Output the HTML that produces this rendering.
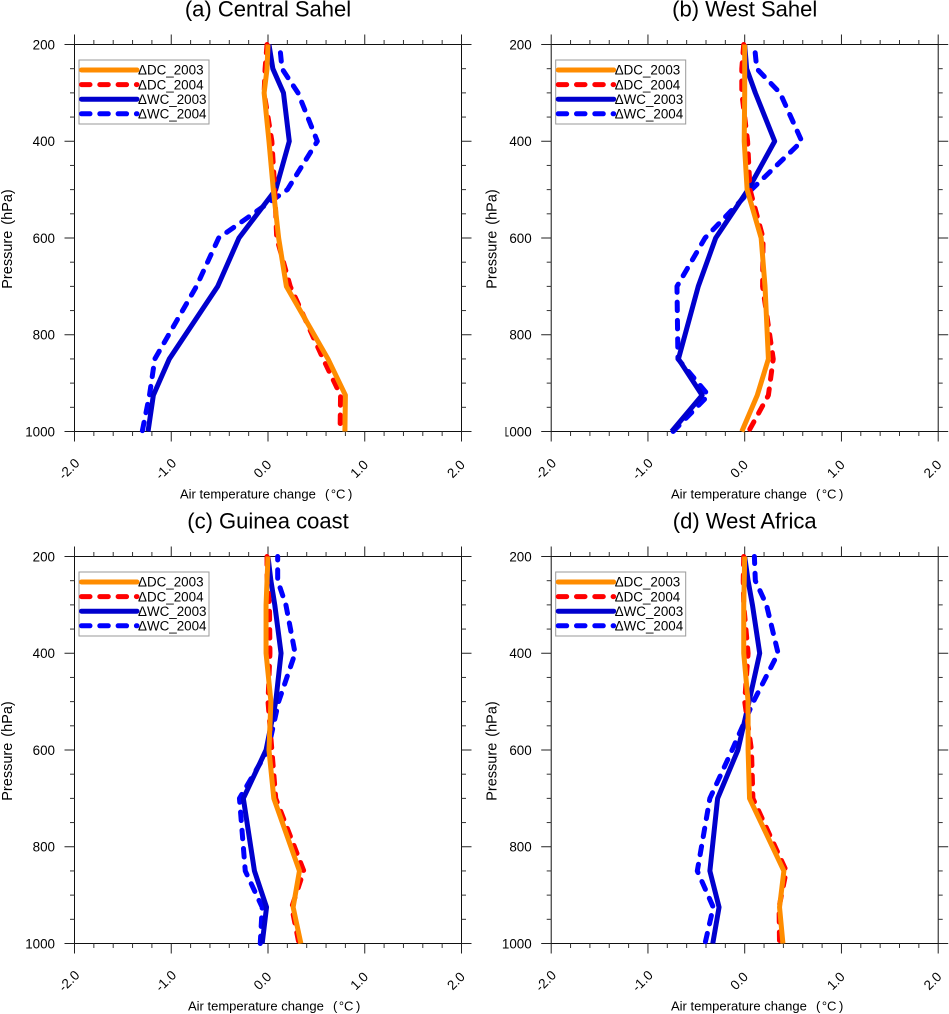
<!DOCTYPE html>
<html>
<head>
<meta charset="utf-8">
<title>Air temperature change profiles</title>
<style>
  html, body { margin: 0; padding: 0; background: #fff; }
  svg { display: block; font-family: "Liberation Sans", sans-serif; }
</style>
</head>
<body>
<svg id="figure" width="949" height="1014" viewBox="0 0 949 1014" xmlns="http://www.w3.org/2000/svg"></svg>
<script>
const pressureLevels = [200, 250, 300, 400, 500, 600, 700, 850, 925, 1000];
const pressureTicks = [200, 400, 600, 800, 1000];
const temperatureTicks = [-2, -1, 0, 1, 2];
const temperatureTickLabels = ["-2.0", "-1.0", "0.0", "1.0", "2.0"];
const seriesNames = ["\u0394DC_2003", "\u0394DC_2004", "\u0394WC_2003", "\u0394WC_2004"];
const panelTitles = ["(a) Central Sahel", "(b) West Sahel", "(c) Guinea coast", "(d) West Africa"];

const centralSahelDC2003 = [0, -0.01, -0.04, 0.01, 0.055, 0.11, 0.19, 0.62, 0.80, 0.795];
const centralSahelDC2004 = [-0.01, -0.03, -0.04, 0.04, 0.07, 0.09, 0.23, 0.57, 0.75, 0.745];
const centralSahelWC2003 = [0.01, 0.05, 0.16, 0.22, 0.08, -0.30, -0.52, -1.02, -1.185, -1.24];
const centralSahelWC2004 = [0.12, 0.145, 0.31, 0.51, 0.2, -0.51, -0.74, -1.17, -1.225, -1.30];

const westSahelDC2003 = [0, 0, 0, -0.005, 0.025, 0.17, 0.21, 0.245, 0.13, -0.03];
const westSahelDC2004 = [-0.01, -0.03, -0.03, 0.03, 0.055, 0.19, 0.185, 0.295, 0.245, 0.04];
const westSahelWC2003 = [0, 0.02, 0.11, 0.31, 0.035, -0.30, -0.48, -0.685, -0.44, -0.755];
const westSahelWC2004 = [0.10, 0.125, 0.365, 0.59, 0.07, -0.41, -0.70, -0.69, -0.375, -0.74];

const guineaCoastDC2003 = [0, -0.01, -0.02, -0.02, 0.03, 0.01, 0.06, 0.325, 0.26, 0.34];
const guineaCoastDC2004 = [-0.01, -0.01, 0.015, 0.02, 0, 0.04, 0.08, 0.37, 0.245, 0.32];
const guineaCoastWC2003 = [0, 0.03, 0.07, 0.135, 0.08, -0.02, -0.255, -0.14, -0.015, -0.06];
const guineaCoastWC2004 = [0.10, 0.10, 0.185, 0.28, 0.11, 0, -0.295, -0.235, -0.06, -0.08];

const westAfricaDC2003 = [0, -0.005, -0.01, -0.01, 0.035, 0.035, 0.05, 0.405, 0.36, 0.395];
const westAfricaDC2004 = [-0.01, -0.015, -0.01, 0.035, 0, 0.07, 0.085, 0.43, 0.355, 0.36];
const westAfricaWC2003 = [0, 0.035, 0.08, 0.155, 0.045, -0.07, -0.28, -0.36, -0.265, -0.33];
const westAfricaWC2004 = [0.10, 0.11, 0.225, 0.345, 0.09, -0.13, -0.36, -0.49, -0.325, -0.41];

const panelSeries = [
  [centralSahelWC2004, centralSahelWC2003, centralSahelDC2004, centralSahelDC2003],
  [westSahelWC2004, westSahelWC2003, westSahelDC2004, westSahelDC2003],
  [guineaCoastWC2004, guineaCoastWC2003, guineaCoastDC2004, guineaCoastDC2003],
  [westAfricaWC2004, westAfricaWC2003, westAfricaDC2004, westAfricaDC2003]
];

const PLOT_SIZE = 387;
const panelFrames = [
  { left: 74.5, top: 44.5, xTitleStart: 180, yTitleGap: 62.5, dashPhase: 10, key: "central-sahel" },
  { left: 551.2, top: 44.5, xTitleStart: 671, yTitleGap: 54.5, dashPhase: 10, key: "west-sahel" },
  { left: 74.5, top: 556.5, xTitleStart: 188, yTitleGap: 62.5, dashPhase: 5, key: "guinea-coast" },
  { left: 551.2, top: 556.5, xTitleStart: 671, yTitleGap: 54.5, dashPhase: 1.5, key: "west-africa" }
];
const seriesStyles = [
  { color: "#0000ff", dashed: true },
  { color: "#0000cd", dashed: false },
  { color: "#ff0000", dashed: true },
  { color: "#ff8c00", dashed: false }
];
const legendStyles = [
  { color: "#ff8c00", dashed: false },
  { color: "#ff0000", dashed: true },
  { color: "#0000cd", dashed: false },
  { color: "#0000ff", dashed: true }
];

const NS = "http://www.w3.org/2000/svg";
const figure = document.getElementById("figure");

function make(tag, parent, attrs, text) {
  const el = document.createElementNS(NS, tag);
  for (const k in attrs) el.setAttribute(k, attrs[k]);
  if (text !== undefined) el.textContent = text;
  parent.appendChild(el);
  return el;
}
function xScale(frame, value) { return frame.left + (value + 2) / 4 * PLOT_SIZE; }
function yScale(frame, pressure) { return frame.top + (pressure - 200) / 800 * PLOT_SIZE; }

function drawTick(group, x1, y1, x2, y2, major) {
  const tick = make("line", group, { x1: x1, y1: y1, x2: x2, y2: y2, stroke: major ? "#222" : "#333", "stroke-width": 1 });
  
  
}

function drawAxes(group, frame, title) {
  const right = frame.left + PLOT_SIZE;
  const bottom = frame.top + PLOT_SIZE;

  const box = make("rect", group, { x: frame.left, y: frame.top, width: PLOT_SIZE, height: PLOT_SIZE, fill: "#fff", stroke: "#111", "stroke-width": 1 });
  
  

  for (let v = -2; v <= 2.001; v += 0.2) {
    const major = Math.abs(v - Math.round(v)) < 0.001;
    const len = major ? 10 : 4.5;
    const x = xScale(frame, v);
    drawTick(group, x, frame.top, x, frame.top - len, major);
    drawTick(group, x, bottom, x, bottom + len, major);
  }
  for (let p = 200; p <= 1000; p += 50) {
    const major = p % 200 === 0;
    const len = major ? 10 : 4.5;
    const y = yScale(frame, p);
    drawTick(group, frame.left, y, frame.left - len, y, major);
    drawTick(group, right, y, right + len, y, major);
  }

  pressureTicks.forEach(function (p) {
    const label = make("text", group, { x: frame.left - 19.5, y: yScale(frame, p) + 4.8, "text-anchor": "end", "font-size": 13.4, fill: "#000" }, String(p));
    
    
  });
  temperatureTicks.forEach(function (v, i) {
    const cx = xScale(frame, v) - 5.5;
    const cy = bottom + 37.5;
    const label = make("text", group, { x: cx, y: cy + 4.5, "text-anchor": "middle", "font-size": 13.4, fill: "#000", transform: "rotate(-45 " + cx + " " + cy + ")" }, temperatureTickLabels[i]);
    
    
  });

  const panelTitle = make("text", group, { x: frame.left + PLOT_SIZE / 2, y: frame.top - 28, "text-anchor": "middle", "font-size": 22, fill: "#000" }, title);
  
  

  const yCx = frame.left - frame.yTitleGap;
  const yCy = frame.top + PLOT_SIZE / 2 + 1;
  const yTitle = make("text", group, { x: yCx, y: yCy, "text-anchor": "middle", "font-size": 14.5, fill: "#000", "word-spacing": "2", transform: "rotate(-90 " + yCx + " " + yCy + ")" }, "Pressure (hPa)");
  
  

  const base = bottom + 67;
  const xTitle = make("text", group, { x: frame.xTitleStart, y: base, "font-size": 13, fill: "#000" }, "Air temperature change");
  
  
  const xUnit = make("text", group, { x: frame.xTitleStart + 145, y: base, dx: "0 1.5 0 2.5", "font-size": 13, fill: "#000" }, "(\u00b0C)");
  
  
}

function drawSeries(group, frame, values, style, name) {
  const pts = values.map(function (v, i) {
    return xScale(frame, v).toFixed(2) + "," + yScale(frame, pressureLevels[i]).toFixed(2);
  }).join(" ");
  const line = make("polyline", group, { points: pts, fill: "none", stroke: style.color, "stroke-width": 5, "stroke-linejoin": "round", "stroke-linecap": style.dashed ? "round" : "butt" });
  if (style.dashed) {
    line.setAttribute("stroke-dasharray", "8.5 9.8");
    line.setAttribute("stroke-dashoffset", name === "wc-2004" ? frame.dashPhase : 0);
  }
  
  
}

function drawLegend(group, frame) {
  const lx = frame.left + 4.5;
  const ly = frame.top + 15.5;
  const legend = make("g", group, {});
  
  
  const box = make("rect", legend, { x: lx, y: ly, width: 130, height: 64, fill: "#fff", stroke: "#9a9a9a", "stroke-width": 1 });
  
  
  seriesNames.forEach(function (name, i) {
    const rowY = ly + 10 + i * 14.6;
    const entry = make("g", legend, {});
    
    
    const sw = make("line", entry, { x1: lx + 2.5, y1: rowY, x2: lx + 58, y2: rowY, stroke: legendStyles[i].color, "stroke-width": 5, "stroke-linecap": "round" });
    if (legendStyles[i].dashed) sw.setAttribute("stroke-dasharray", "8.5 9.8");
    
    
    const label = make("text", entry, { x: lx + 59, y: rowY + 4.7, "font-size": 13.4, fill: "#000" }, name);
    
    
  });
}

const seriesKeys = ["wc-2004", "wc-2003", "dc-2004", "dc-2003"];
panelFrames.forEach(function (frame, idx) {
  const group = make("g", figure, {});
  
  
  drawAxes(group, frame, panelTitles[idx]);
  panelSeries[idx].forEach(function (values, s) {
    drawSeries(group, frame, values, seriesStyles[s], seriesKeys[s]);
  });
  drawLegend(group, frame);
});

const labelMask = make("rect", figure, { x: 488, y: 420, width: 17.5, height: 22, fill: "#fff" });


</script>
</body>
</html>
